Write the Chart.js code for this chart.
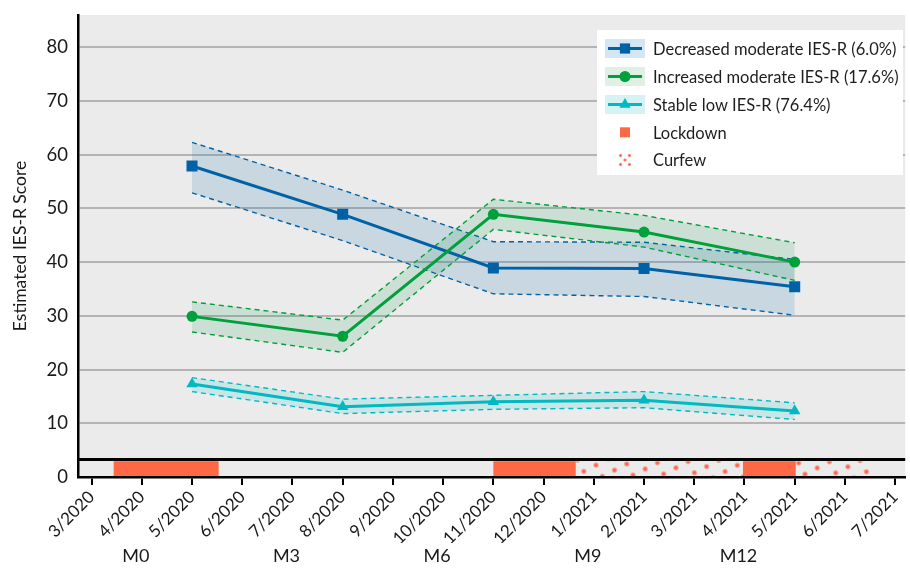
<!DOCTYPE html>
<html>
<head>
<meta charset="utf-8">
<script src="https://cdn.jsdelivr.net/npm/chart.js@4/dist/chart.umd.min.js"></script>
<style>
  html, body { margin: 0; padding: 0; background: #ffffff; overflow: hidden; }
  #wrap { width: 910px; height: 569px; overflow: hidden; }
</style>
</head>
<body>
<div id="wrap"><canvas id="chart" width="913" height="569"></canvas></div>
<script>
// Month axis: index 0 = 3/2020 ... 16 = 7/2021
const monthLabels = ['3/2020', '4/2020', '5/2020', '6/2020', '7/2020', '8/2020', '9/2020', '10/2020',
  '11/2020', '12/2020', '1/2021', '2/2021', '3/2021', '4/2021', '5/2021', '6/2021', '7/2021'];
const visitTickValues = [1, 4, 7, 10, 13];
const visitLabels = ['M0', 'M3', 'M6', 'M9', 'M12'];
const yTickValues = [0, 10, 20, 30, 40, 50, 60, 70, 80];

// Assessment months (month index) and estimated IES-R scores per trajectory
const visitMonths = [2, 5, 8, 11, 14];
const decreasedMean  = [57.9, 48.9, 38.9, 38.8, 35.4];
const decreasedUpper = [62.3, 53.4, 43.8, 43.7, 40.5];
const decreasedLower = [52.9, 44.0, 34.1, 33.6, 30.1];
const increasedMean  = [29.9, 26.2, 48.9, 45.6, 40.0];
const increasedUpper = [32.6, 29.2, 51.7, 48.7, 43.6];
const increasedLower = [27.0, 23.2, 46.1, 42.8, 36.6];
const stableMean  = [17.3, 13.1, 14.0, 14.3, 12.3];
const stableUpper = [18.5, 14.5, 15.2, 15.9, 13.8];
const stableLower = [15.9, 11.8, 12.6, 12.9, 10.7];

// Restriction periods (month index, start / end)
const lockdownStart = [0.44, 8.0, 12.97];
const lockdownEnd   = [2.53, 9.64, 14.02];
const curfewStart = [9.64, 14.02];
const curfewEnd   = [12.97, 15.6];
const restrictionTop = 2.95;   // height of the restriction strip (score units)
const separatorLevel = 3.25;   // black rule above the strip

const seriesNames = ['Decreased moderate IES-R (6.0%)', 'Increased moderate IES-R (17.6%)', 'Stable low IES-R (76.4%)'];

const BLUE = '#0062a6', GREEN = '#00a03c', CYAN = '#00b9c1', RED = '#ff6845';
const FONT = 'Lato, "Open Sans", sans-serif';

const pts = (vals) => visitMonths.map((m, i) => ({ x: m, y: vals[i] }));

function band(upper, lower, color, fill, order) {
  return [
    { data: pts(upper), borderColor: color, borderWidth: 1.4, borderDash: [5, 4], pointRadius: 0,
      backgroundColor: fill, fill: '+1', order: order, tension: 0 },
    { data: pts(lower), borderColor: color, borderWidth: 1.4, borderDash: [5, 4], pointRadius: 0,
      fill: false, order: order, tension: 0 }
  ];
}
function mainLine(vals, color, style, radius, order) {
  return { data: pts(vals), borderColor: color, backgroundColor: color, borderWidth: 3,
    pointStyle: style, pointRadius: radius, pointHoverRadius: radius, pointBorderWidth: 0,
    pointBackgroundColor: color, fill: false, order: order, tension: 0 };
}

const datasets = [
  ...band(decreasedUpper, decreasedLower, BLUE, 'rgba(25,110,165,0.16)', 12),
  ...band(increasedUpper, increasedLower, GREEN, 'rgba(0,150,60,0.13)', 11),
  ...band(stableUpper, stableLower, CYAN, 'rgba(0,195,205,0.14)', 10),
  mainLine(decreasedMean, BLUE, 'rect', 7.8, 3),
  mainLine(increasedMean, GREEN, 'circle', 5.5, 2),
  mainLine(stableMean, CYAN, 'triangle', 6.6, 1)
];

// Gray panel behind the plot
const panel = {
  id: 'panel',
  beforeDraw(chart) {
    const { ctx, chartArea: a } = chart;
    ctx.save();
    ctx.fillStyle = '#ebebeb';
    ctx.fillRect(a.left, a.top, a.right - a.left, a.bottom - a.top);
    ctx.restore();
  }
};

function softDot(ctx, x, y, r) {
  const g = ctx.createRadialGradient(x, y, 0, x, y, r);
  g.addColorStop(0, 'rgba(255,90,60,1)');
  g.addColorStop(0.45, 'rgba(255,100,75,0.85)');
  g.addColorStop(1, 'rgba(255,140,120,0)');
  ctx.fillStyle = g;
  ctx.beginPath();
  ctx.arc(x, y, r, 0, Math.PI * 2);
  ctx.fill();
}

// Lockdown / curfew strip along the bottom of the plot
const restrictions = {
  id: 'restrictions',
  beforeDatasetsDraw(chart) {
    const { ctx, chartArea: a } = chart;
    const xs = chart.scales.x, ys = chart.scales.y;
    const top = ys.getPixelForValue(restrictionTop);
    const bottom = ys.getPixelForValue(0) - 1;
    ctx.save();
    ctx.fillStyle = RED;
    lockdownStart.forEach((s, i) => {
      const x0 = xs.getPixelForValue(s), x1 = xs.getPixelForValue(lockdownEnd[i]);
      ctx.fillRect(x0, top, x1 - x0, bottom - top);
    });
    // dotted texture for curfew periods
    const u = [30.7, -1.2], v = [18.5, 5.0];
    const ox = a.left + 518, oy = top + 4;
    curfewStart.forEach((s, i) => {
      const x0 = xs.getPixelForValue(s), x1 = xs.getPixelForValue(curfewEnd[i]);
      ctx.save();
      ctx.beginPath();
      ctx.rect(x0, top, x1 - x0, bottom - top);
      ctx.clip();
      for (let p = -40; p <= 40; p++) {
        for (let q = -12; q <= 12; q++) {
          const px = ox + p * u[0] + q * v[0];
          const py = oy + p * u[1] + q * v[1];
          if (px > x0 - 4 && px < x1 + 4 && py > top - 4 && py < bottom + 4) softDot(ctx, px, py, 3.4);
        }
      }
      ctx.restore();
    });
    // separator rule
    const ly = ys.getPixelForValue(separatorLevel);
    ctx.strokeStyle = '#000';
    ctx.lineWidth = 3;
    ctx.beginPath();
    ctx.moveTo(a.left, ly);
    ctx.lineTo(a.right, ly);
    ctx.stroke();
    ctx.restore();
  }
};

// Boxed legend in the upper right corner
const boxLegend = {
  id: 'boxLegend',
  afterDraw(chart) {
    const { ctx } = chart;
    const bx = 597, by = 30, bw = 306, bh = 145;
    ctx.save();
    ctx.fillStyle = '#ffffff';
    ctx.fillRect(bx, by, bw, bh);
    const rowY = [48.5, 76.5, 104.5, 132.3, 160];
    const colors = [BLUE, GREEN, CYAN];
    const swatches = ['#d4e6f1', '#e0f0e4', '#d7f2f4'];
    const styles = ['rect', 'circle', 'triangle'];
    const radii = [7.2, 5.5, 6.4];
    const sx = 605, sw = 40, sh = 19, cx = 625;
    for (let i = 0; i < 3; i++) {
      const y = rowY[i];
      ctx.fillStyle = swatches[i];
      ctx.fillRect(sx, y - sh / 2, sw, sh);
      ctx.strokeStyle = colors[i];
      ctx.lineWidth = 3;
      ctx.beginPath();
      ctx.moveTo(sx + 3, y);
      ctx.lineTo(sx + sw - 3, y);
      ctx.stroke();
      ctx.fillStyle = colors[i];
      Chart.helpers.drawPoint(ctx, { pointStyle: styles[i], radius: radii[i], borderWidth: 0 }, cx, y);
    }
    // lockdown swatch
    ctx.fillStyle = RED;
    ctx.fillRect(cx - 5, rowY[3] - 5, 10, 10);
    // curfew swatch
    [[-4.5, -4.5], [4.5, -4.5], [0, 0], [-4.5, 4.5], [4.5, 4.5]].forEach(([dx, dy]) => {
      softDot(ctx, cx + dx, rowY[4] + dy, 2.2);
    });
    ctx.fillStyle = '#1e1e1e';
    ctx.font = '16.5px ' + FONT;
    ctx.textBaseline = 'middle';
    ctx.textAlign = 'left';
    const texts = [...seriesNames, 'Lockdown', 'Curfew'];
    texts.forEach((t, i) => ctx.fillText(t, 653, rowY[i] + 1));
    ctx.restore();
  }
};

new Chart(document.getElementById('chart'), {
  type: 'line',
  data: { datasets },
  plugins: [panel, restrictions, boxLegend],
  options: {
    responsive: false,
    animation: false,
    devicePixelRatio: 1,
    layout: { padding: { top: 15, right: 2, left: 0, bottom: 0 } },
    plugins: { legend: { display: false }, tooltip: { enabled: false } },
    scales: {
      y: {
        type: 'linear', min: 0, max: 86,
        afterFit(scale) { scale.width = 78; scale.paddingTop = 0; scale.paddingBottom = 0; },
        afterBuildTicks(scale) { scale.ticks = yTickValues.map(v => ({ value: v })); },
        grid: {
          color: (c) => (c.tick && c.tick.value === 0 ? 'rgba(0,0,0,0)' : '#b4b4b4'),
          lineWidth: 2, drawTicks: false
        },
        border: { display: true, color: '#000', width: 2.5 },
        ticks: { color: '#1a1a1a', font: { family: FONT, size: 18.5 }, padding: 10 },
        title: { display: true, text: 'Estimated IES-R Score', color: '#1a1a1a',
          font: { family: FONT, size: 17.5 }, padding: { top: 10, bottom: 0 } }
      },
      x: {
        type: 'linear', position: 'bottom', min: -0.27, max: 16.2, weight: 0,
        afterFit(scale) { scale.height = 66; scale.paddingLeft = 0; scale.paddingRight = 0; },
        afterBuildTicks(scale) { scale.ticks = monthLabels.map((_, i) => ({ value: i })); },
        grid: { drawOnChartArea: false, drawTicks: true, tickLength: 8, color: '#000', lineWidth: 2 },
        border: { display: true, color: '#000', width: 2.5 },
        ticks: {
          color: '#1a1a1a', font: { family: FONT, size: 17 }, minRotation: 45, maxRotation: 45,
          autoSkip: false, padding: 2,
          callback: (v) => monthLabels[v]
        }
      },
      x2: {
        type: 'linear', position: 'bottom', min: -0.27, max: 16.2, weight: 1,
        afterFit(scale) { scale.height = 26; scale.paddingLeft = 0; scale.paddingRight = 0; },
        afterBuildTicks(scale) { scale.ticks = visitTickValues.map(v => ({ value: v })); },
        grid: { display: false, drawTicks: false },
        border: { display: false },
        ticks: {
          color: '#1a1a1a', font: { family: FONT, size: 18 }, maxRotation: 0, minRotation: 0,
          autoSkip: false, padding: 2, labelOffset: -6,
          callback: (v) => visitLabels[visitTickValues.indexOf(v)]
        }
      }
    }
  }
});
</script>
</body>
</html>
